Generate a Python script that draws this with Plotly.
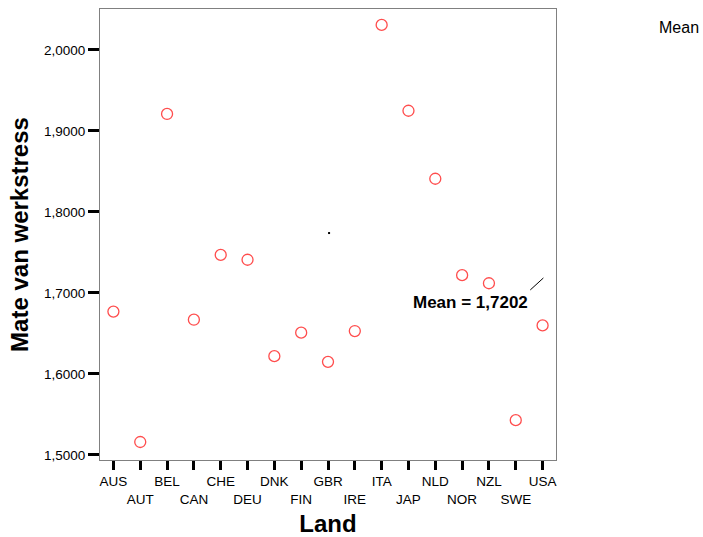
import plotly.graph_objects as go

countries = ["AUS", "AUT", "BEL", "CAN", "CHE", "DEU", "DNK", "FIN", "GBR",
             "IRE", "ITA", "JAP", "NLD", "NOR", "NZL", "SWE", "USA"]
stress = [1.677, 1.516, 1.921, 1.667, 1.747, 1.741, 1.622, 1.651, 1.615,
          1.653, 2.031, 1.925, 1.841, 1.722, 1.712, 1.543, 1.660]
y_ticks = [1.5, 1.6, 1.7, 1.8, 1.9, 2.0]

mean_val = sum(stress) / len(stress)
mean_label = "Mean = " + f"{mean_val:.4f}".replace(".", ",")

idx = list(range(len(countries)))
ticktext = [c if i % 2 == 0 else "<br>" + c for i, c in enumerate(countries)]

font = "Liberation Sans, Arial, Helvetica, sans-serif"

fig = go.Figure()
fig.add_trace(go.Scatter(
    x=idx, y=stress, mode="markers",
    marker=dict(symbol="circle-open", size=11, color="#ff4d4d",
                line=dict(width=1.3, color="#ff4d4d")),
    showlegend=False, hoverinfo="x+y"))

# small artifact dot
fig.add_trace(go.Scatter(
    x=[8.04], y=[1.774], mode="markers",
    marker=dict(symbol="square", size=2, color="black"),
    showlegend=False, hoverinfo="skip"))

fig.add_shape(type="line", xref="x", yref="y",
              x0=15.54, y0=mean_val - 0.0165, x1=16.03, y1=mean_val - 0.0017,
              line=dict(color="black", width=1))

fig.add_annotation(x=13.3, y=mean_val - 0.0325, xref="x", yref="y",
                   text="<b>" + mean_label + "</b>", showarrow=False,
                   xanchor="center", yanchor="middle",
                   font=dict(size=17, color="black", family=font))

fig.add_annotation(x=(679 - 100) / 456, y=1 - (28 - 9) / 451, xref="paper", yref="paper",
                   text="Mean", showarrow=False, xanchor="center", yanchor="middle",
                   font=dict(size=16, color="black", family=font))

fig.update_layout(
    width=703, height=537,
    margin=dict(l=100, r=147, t=9, b=77),
    paper_bgcolor="white", plot_bgcolor="white",
    separators=",.",
    font=dict(family=font, color="black", size=13.5),
    xaxis=dict(
        range=[-0.5, 16.5], tickmode="array", tickvals=idx, ticktext=ticktext,
        tickangle=0, automargin=False,
        showgrid=False, zeroline=False,
        showline=True, mirror=True, linecolor="#808080", linewidth=1,
        ticks="outside", ticklen=9, tickwidth=3, tickcolor="black",
        tickfont=dict(size=13.5, family=font),
        title=dict(text="<b>Land</b>", font=dict(size=24, family=font), standoff=13),
    ),
    yaxis=dict(
        range=[1.4938, 2.0506], tickmode="array", tickvals=y_ticks,
        tickformat=".4f", automargin=False,
        showgrid=False, zeroline=False,
        showline=True, mirror=True, linecolor="#808080", linewidth=1,
        ticks="outside", ticklen=11, tickwidth=3, tickcolor="black",
        tickfont=dict(size=13.5, family=font),
        title=dict(text="<b>Mate van werkstress</b>", font=dict(size=24, family=font), standoff=8),
    ),
)

fig.write_html("out.html")
